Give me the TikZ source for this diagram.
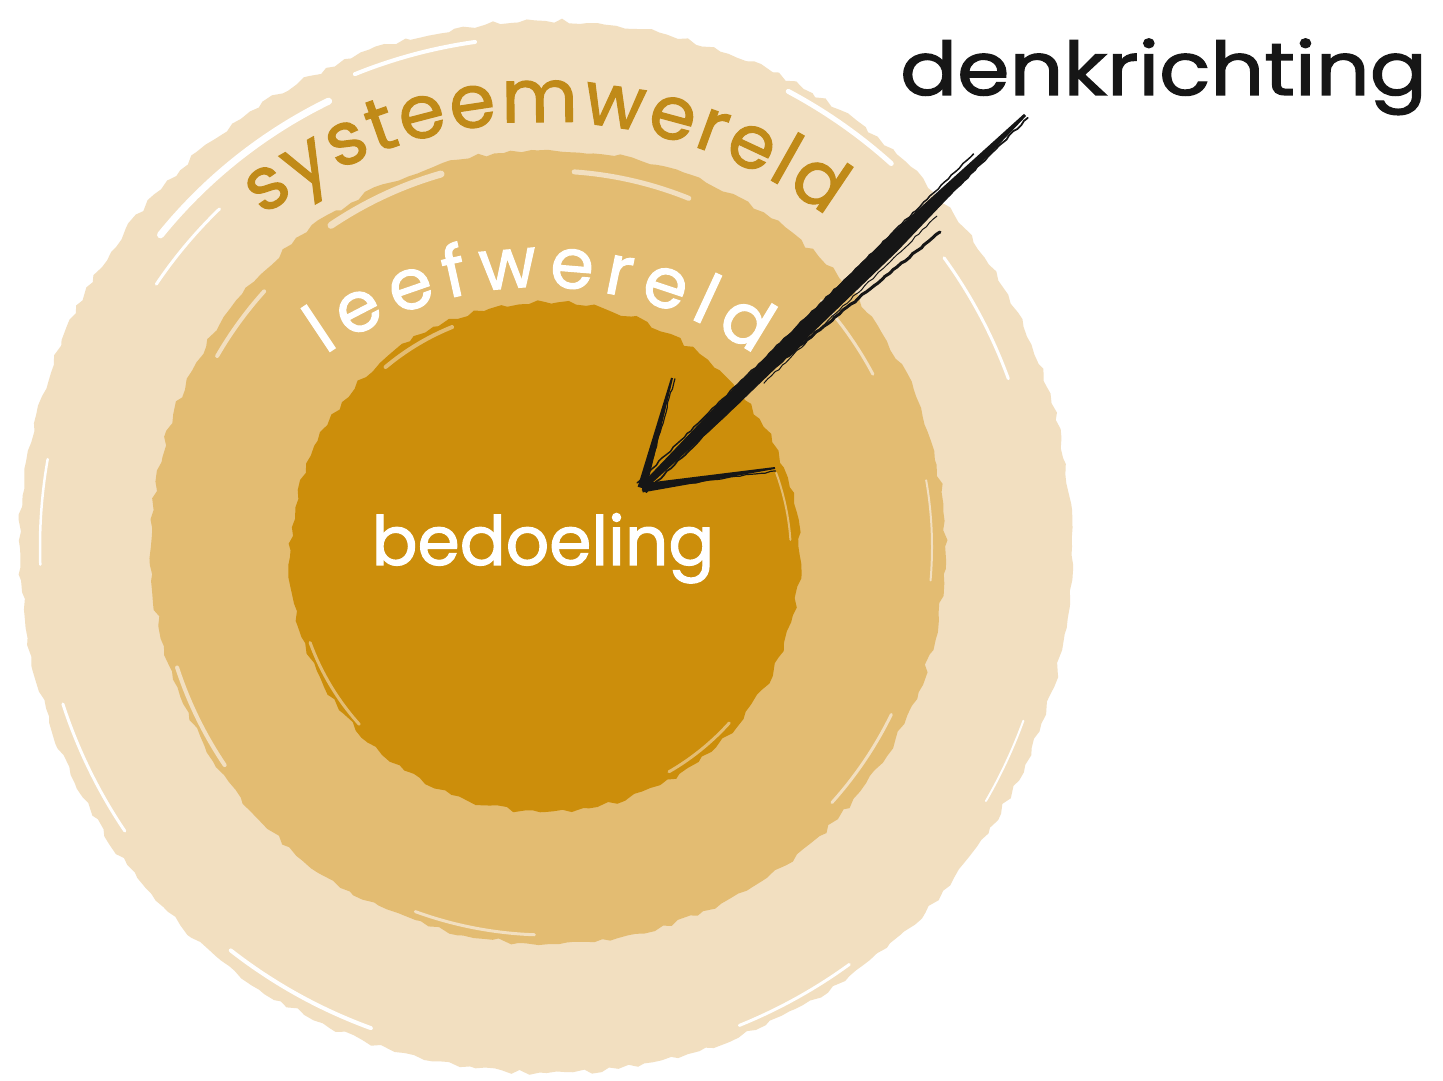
\documentclass[tikz,border=0pt]{standalone}
\usepackage{fontspec}
\setmainfont{Poppins}
\newfontfamily\handfont{Poppins}[FakeBold=1.6]
\usetikzlibrary{calc,decorations.text,decorations.pathmorphing}
\definecolor{ringA}{HTML}{F2DFC0}
\definecolor{ringB}{HTML}{E3BC72}
\definecolor{ringC}{HTML}{CC8E0B}
\definecolor{sysc}{HTML}{C08A18}
\definecolor{ink}{HTML}{161616}
\newcommand{\sysfont}{\handfont\fontsize{74pt}{80pt}\selectfont}
\newcommand{\leeffont}{\handfont\fontsize{70pt}{76pt}\selectfont}
\newcommand{\bedfont}{\handfont\fontsize{68pt}{74pt}\selectfont}
\newcommand{\denkfont}{\handfont\fontsize{74pt}{80pt}\selectfont}
\begin{document}
\begin{tikzpicture}[x=1pt,y=1pt,
  rough/.style={decorate,decoration={random steps,segment length=9pt,amplitude=2.5pt}},
  streak/.style={line cap=round,line width=#1},
  sketch/.style={ink,line cap=round,line width=#1,decorate,decoration={random steps,segment length=5pt,amplitude=0.8pt}},
  label/.style={inner sep=0pt}]
\pgfmathsetseed{11}
\useasboundingbox (0,0) rectangle (1443,1081);
\fill[white] (0,0) rectangle (1443,1081);

% centres
\coordinate (O) at (546,534);
\coordinate (M) at (548,534);
\coordinate (I) at (545,524);

% rings
\fill[ringA,rough] (O) circle[radius=526pt];
\fill[ringB,rough] (M) circle[radius=397pt];
\fill[ringC,rough] (I) circle[radius=255pt];

% brush streaks on the outer ring
\begin{scope}[white]
\draw[streak=7pt] (O) ++(141:496pt) arc[start angle=141,end angle=116,radius=496pt];
\draw[streak=3pt] (O) ++(146:470pt) arc[start angle=146,end angle=134,radius=470pt];
\draw[streak=4pt] (O) ++(112:510pt) arc[start angle=112,end angle=98,radius=510pt];
\draw[streak=3pt] (O) ++(36:492pt) arc[start angle=36,end angle=20,radius=492pt];
\draw[streak=5pt] (O) ++(62:516pt) arc[start angle=62,end angle=48,radius=516pt];
\draw[streak=3pt] (O) ++(198:508pt) arc[start angle=198,end angle=214,radius=508pt];
\draw[streak=4pt] (O) ++(232:512pt) arc[start angle=232,end angle=250,radius=512pt];
\draw[streak=3pt] (O) ++(292:516pt) arc[start angle=292,end angle=306,radius=516pt];
\draw[streak=2pt] (O) ++(330:508pt) arc[start angle=330,end angle=340,radius=508pt];
\draw[streak=2.5pt] (O) ++(170:506pt) arc[start angle=170,end angle=182,radius=506pt];
\end{scope}

% lighter streaks on the middle ring
\begin{scope}[ringA]
\draw[streak=7pt] (M) ++(124:388pt) arc[start angle=124,end angle=106,radius=388pt];
\draw[streak=5pt] (M) ++(86:376pt) arc[start angle=86,end angle=68,radius=376pt];
\draw[streak=4pt] (M) ++(150:382pt) arc[start angle=150,end angle=138,radius=382pt];
\draw[streak=3pt] (M) ++(42:368pt) arc[start angle=42,end angle=28,radius=368pt];
\draw[streak=4pt] (M) ++(198:390pt) arc[start angle=198,end angle=214,radius=390pt];
\draw[streak=3pt] (M) ++(250:388pt) arc[start angle=250,end angle=268,radius=388pt];
\draw[streak=3pt] (M) ++(318:382pt) arc[start angle=318,end angle=334,radius=382pt];
\draw[streak=2pt] (M) ++(10:384pt) arc[start angle=10,end angle=-5,radius=384pt];
\end{scope}

% soft edge of the inner disc
\begin{scope}[ringB]
\draw[streak=4pt] (I) ++(130:248pt) arc[start angle=130,end angle=112,radius=248pt];
\draw[streak=3pt] (I) ++(200:250pt) arc[start angle=200,end angle=222,radius=250pt];
\draw[streak=3pt] (I) ++(300:248pt) arc[start angle=300,end angle=318,radius=248pt];
\draw[streak=2pt] (I) ++(20:246pt) arc[start angle=20,end angle=4,radius=246pt];
\end{scope}

% curved labels
\coordinate (sysC) at (545,491);
\path[decorate,decoration={text along path,text={|\sysfont|systeemwereld},
      text color=sysc,text align=fit to path}]
  (sysC) ++(127:468pt) arc[start angle=127,end angle=53,radius=468pt];
\coordinate (leefC) at (540,420);
\path[decorate,decoration={text along path,text={|\leeffont|leefwereld},
      text color=white,text align=fit to path}]
  (leefC) ++(125:374pt) arc[start angle=125,end angle=55,radius=374pt];

\node[label,anchor=base,text=white,font=\bedfont] (bed) at (543,516) {bedoeling};
\node[label,anchor=base west,text=ink,font=\denkfont] (denk) at (900,986) {\scalebox{1.14}[1]{denkrichting}};

% arrow
\coordinate (S) at (1025,966);
\coordinate (T) at (642,593);
\coordinate (B1) at (672,703);
\coordinate (B2) at (775,613);
\coordinate (S2) at (940,849);
\coordinate (E2) at (770,711);

\fill[ink] ($(S)!1.5pt!90:(T)$)
  -- ($(S)!0.35!(T)!8.5pt!90:(T)$)
  -- ($(S)!0.8!(T)!7pt!90:(T)$)
  -- ($(T)!3pt!-90:(S)$)
  -- ($(T)!3pt!90:(S)$)
  -- ($(S)!0.8!(T)!7pt!-90:(T)$)
  -- ($(S)!0.35!(T)!8.5pt!-90:(T)$)
  -- ($(S)!1.5pt!-90:(T)$) -- cycle;
\draw[sketch=1.8pt] ($(S)!4pt!90:(T)$) -- ($(T)!6pt!-90:(S)$);
\draw[sketch=1.5pt] ($(S)!0.12!(T)!8pt!-90:(T)$) -- ($(T)!7pt!90:(S)$);
\draw[sketch=1pt] ($(S)!0.25!(T)!11pt!90:(T)$) -- ($(S)!0.7!(T)!10pt!90:(T)$);
\draw[sketch=3pt] (S2) -- (E2);

\fill[ink] ($(B1)!1pt!90:(T)$) -- ($(T)!4.5pt!-90:(B1)$) -- ($(T)!4.5pt!90:(B1)$) -- ($(B1)!1pt!-90:(T)$) -- cycle;
\draw[sketch=1.2pt] ($(B1)!3pt!90:(T)$) -- ($(T)!2pt!-90:(B1)$);
\fill[ink] ($(B2)!1pt!90:(T)$) -- ($(T)!4.5pt!-90:(B2)$) -- ($(T)!4.5pt!90:(B2)$) -- ($(B2)!1pt!-90:(T)$) -- cycle;
\draw[sketch=1.2pt] ($(B2)!3pt!90:(T)$) -- ($(T)!2pt!-90:(B2)$);
\end{tikzpicture}
\end{document}
